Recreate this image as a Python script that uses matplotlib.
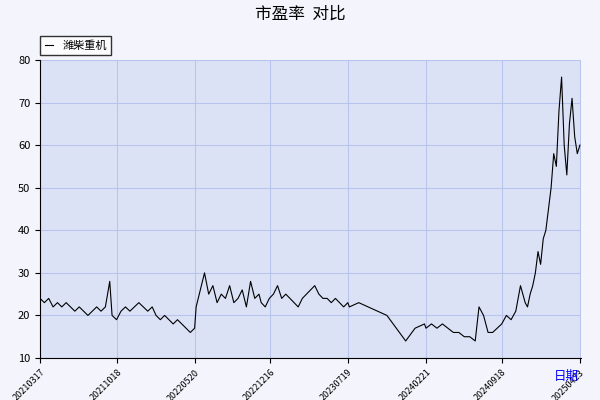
import matplotlib
matplotlib.use("Agg")
import matplotlib.pyplot as plt
import pandas as pd
import numpy as np

plt.rcParams['font.family'] = ['Noto Sans CJK SC', 'DejaVu Sans']

# values per segment; each segment spans a range given in tick units
seg_ranges = [(0.0, 0.9), (0.93, 1.45), (1.5, 2.0), (2.02, 2.85), (2.88, 4.0),
              (4.02, 4.98), (5.0, 5.65), (5.7, 6.3), (6.33, 7.0)]
seg_values = [
    [24,23,24,22,23,22,23,22,21,22,21,20,21,22,21,22,28],
    [20,19,21,22,21,22,23,22,21,22],
    [20,19,20,19,18,19,18,17,16,17],
    [22,26,30,25,27,23,25,24,27,23,24,26,22,28,24,25],
    [23,22,24,25,27,24,25,24,23,22,24,25,26,27,25,24,24,23,24,23,22,23],
    [22,23,22,21,20,17,14,17,18],
    [17,18,17,18,17,16,16,15,15,14],
    [22,20,16,16,17,18,20,19,21,27,23],
    [22,25,27,30,35,32,38,40,45,50,58,55,68,76,60,53,65,71,62,58,60],
]
tick_labels = ['20210317','20211018','20220520','20221216','20230719',
               '20240221','20240918','20250423']
series_name = '潍柴重机'

tick_dates = pd.to_datetime(tick_labels)
tnum = tick_dates.map(pd.Timestamp.toordinal).to_numpy(dtype=float)
xs, ys = [], []
for (a, b), vals in zip(seg_ranges, seg_values):
    u = np.linspace(a, b, len(vals))
    xs.extend(np.interp(u, np.arange(len(tnum)), tnum))
    ys.extend(vals)

fig = plt.figure(figsize=(6, 4), dpi=100)
fig.patch.set_facecolor('#f4f4fc')
ax = fig.add_axes([40/600, 42/400, 541/600, 298/400])
ax.set_facecolor('#dce2f6')
ax.plot(xs, ys, color='black', lw=0.8, label=series_name)
ax.set_ylim(10, 80)
ax.set_xlim(tnum[0], tnum[-1] + 3)
ax.set_xticks(tnum)
ax.set_xticklabels(tick_labels, rotation=45, ha='right', rotation_mode='anchor', fontsize=6.5)
ax.set_yticks(range(10, 81, 10))
ax.tick_params(axis='y', labelsize=8)
ax.grid(True, color='#b8c4ec', lw=0.8)
for s in ['top', 'right']:
    ax.spines[s].set_visible(False)
fig.text(0.5, 0.965, '市盈率  对比', ha='center', va='center', fontsize=12)
fig.text(0.965, 0.06, '日期', ha='right', va='center', fontsize=9, color='blue')
leg = ax.legend(loc='upper left', bbox_to_anchor=(-0.01, 1.1), fontsize=8,
                fancybox=False, edgecolor='black', handlelength=0.8)
fig.savefig('out.png')
